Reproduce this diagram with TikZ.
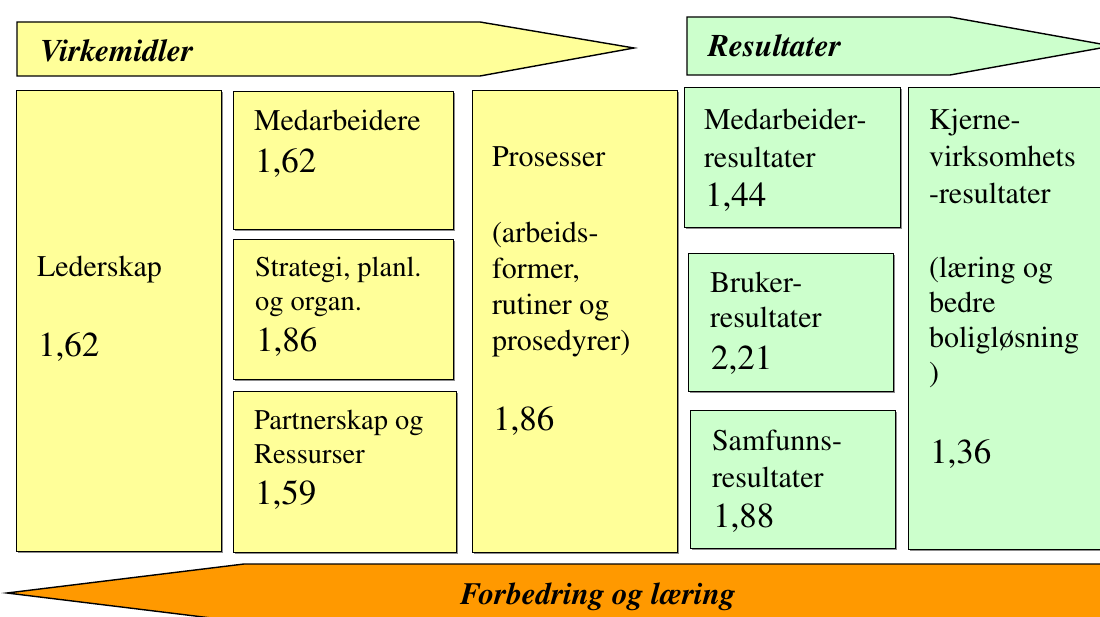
\documentclass[tikz,border=0pt]{standalone}
\usepackage[T1]{fontenc}
\renewcommand{\rmdefault}{ptm}
\usetikzlibrary{shadows}
\definecolor{ylw}{HTML}{FFFF99}
\definecolor{grn}{HTML}{CCFFCC}
\definecolor{org}{HTML}{FF9900}
\newcommand{\lbl}[1]{\fontsize{30}{37}\selectfont\begin{tabular}[t]{@{}l@{}}#1\end{tabular}}
\newcommand{\slbl}[1]{\fontsize{28.5}{34}\selectfont\begin{tabular}[t]{@{}l@{}}#1\end{tabular}}
\newcommand{\num}[1]{\fontsize{35}{40}\selectfont #1}
\begin{document}
\begin{tikzpicture}[x=1pt,y=-1pt,
  boxbase/.style={draw=black,line width=1.4pt,anchor=north west,inner sep=0pt,
     drop shadow={shadow xshift=1.2pt,shadow yshift=-1.2pt,fill=black!45,opacity=1}},
  ybox/.style={boxbase,fill=ylw},
  gbox/.style={boxbase,fill=grn},
  txt/.style={anchor=base west,inner sep=0pt,outer sep=0pt},
  arr/.style={draw=black,line width=1.4pt,line join=miter},
  head/.style={anchor=base west,inner sep=0pt,font=\fontsize{31.5}{36}\selectfont\bfseries\itshape}]
\useasboundingbox (0,0) rectangle (1100,617);
\begin{scope}
\clip (0,0) rectangle (1100,617);
% top arrows
\draw[arr,fill=ylw] (17,22) -- (480,22) -- (634,48) -- (480,76) -- (17,76) -- cycle;
\draw[arr,fill=grn] (687,17) -- (950,17) -- (1112,46) -- (950,75) -- (687,75) -- cycle;
\node[head] (virk) at (40,62) {Virkemidler};
\node[head] (res) at (708,57) {Resultater};
% boxes
\node[ybox,minimum width=205pt,minimum height=461pt] (lead) at (16,90) {};
\node[ybox,minimum width=220pt,minimum height=138pt] (medb) at (233,91) {};
\node[ybox,minimum width=220pt,minimum height=140pt] (strat) at (233,239) {};
\node[ybox,minimum width=223pt,minimum height=161pt] (partn) at (233,391) {};
\node[ybox,minimum width=205pt,minimum height=462pt] (pros) at (472,90) {};
\node[gbox,minimum width=216pt,minimum height=140pt] (medres) at (684,87) {};
\node[gbox,minimum width=205pt,minimum height=138pt] (brres) at (688,253) {};
\node[gbox,minimum width=205pt,minimum height=138pt] (samres) at (690,410) {};
\node[gbox,minimum width=210pt,minimum height=462pt] (kjres) at (908,87) {};
% texts
\node[txt] (leadT) at (37,277) {\lbl{Lederskap}};
\node[txt] (leadN) at (38,356) {\num{1,62}};
\node[txt] (medbT) at (254,131) {\lbl{Medarbeidere}};
\node[txt] (medbN) at (255,173) {\num{1,62}};
\node[txt] (stratT) at (255,277) {\slbl{Strategi, planl.\\og organ.}};
\node[txt] (stratN) at (256,352) {\num{1,86}};
\node[txt] (partnT) at (254,429) {\slbl{Partnerskap og\\Ressurser}};
\node[txt] (partnN) at (255,504) {\num{1,59}};
\node[txt] (prosT) at (492,167) {\lbl{Prosesser}};
\node[txt] (prosD) at (492,243) {\fontsize{30}{36}\selectfont\begin{tabular}[t]{@{}l@{}}(arbeids-\\former,\\rutiner og\\prosedyrer)\end{tabular}};
\node[txt] (prosN) at (493,430) {\num{1,86}};
\node[txt] (medresT) at (704,130) {\fontsize{30}{38}\selectfont\begin{tabular}[t]{@{}l@{}}Medarbeider-\\resultater\end{tabular}};
\node[txt] (medresN) at (705,207) {\num{1,44}};
\node[txt] (brresT) at (710,293) {\fontsize{30}{35}\selectfont\begin{tabular}[t]{@{}l@{}}Bruker-\\resultater\end{tabular}};
\node[txt] (brresN) at (711,370) {\num{2,21}};
\node[txt] (samresT) at (712,450) {\fontsize{30}{37}\selectfont\begin{tabular}[t]{@{}l@{}}Samfunns-\\resultater\end{tabular}};
\node[txt] (samresN) at (713,527) {\num{1,88}};
\node[txt] (kjresT) at (929,130) {\fontsize{30}{37}\selectfont\begin{tabular}[t]{@{}l@{}}Kjerne-\\virksomhets\\-resultater\end{tabular}};
\node[txt] (kjresD) at (929,278) {\fontsize{30}{35}\selectfont\begin{tabular}[t]{@{}l@{}}(l\ae ring og\\bedre\\boligl\o sning\\)\end{tabular}};
\node[txt] (kjresN) at (930,463) {\num{1,36}};
% bottom arrow
\draw[arr,fill=org] (1112,564) -- (244,564) -- (7,593) -- (244,622) -- (1112,622) -- cycle;
\node[anchor=base,inner sep=0pt,font=\fontsize{31}{36}\selectfont\bfseries\itshape] (forb) at (598,604) {Forbedring og l\ae ring};
\end{scope}
\end{tikzpicture}
\end{document}
